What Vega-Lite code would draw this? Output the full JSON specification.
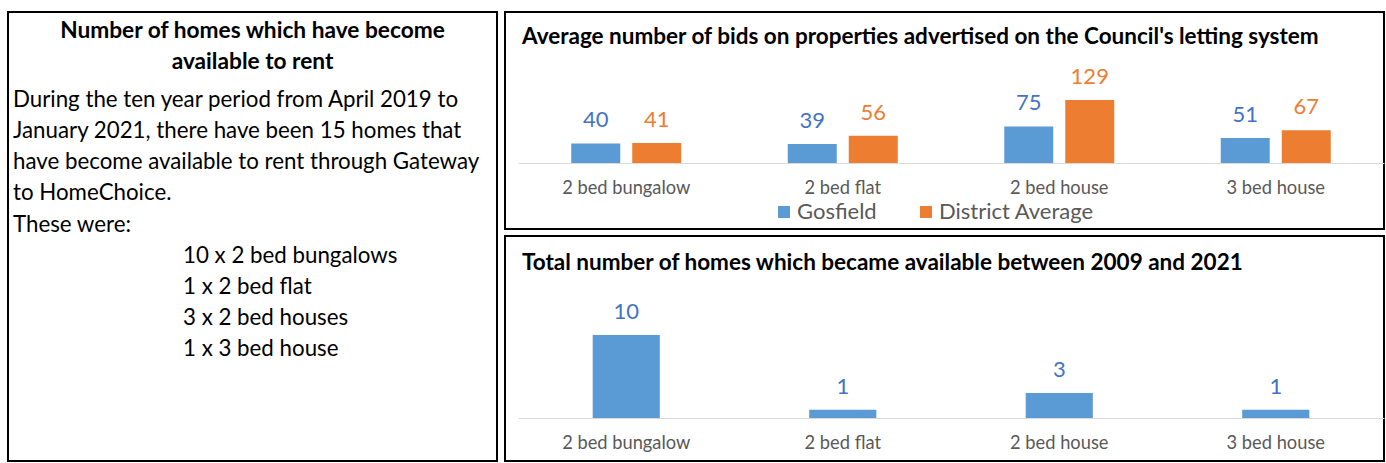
{
  "$schema": "https://vega.github.io/schema/vega-lite/v6.json",
  "padding": {"left": 7, "top": 11, "right": 1, "bottom": 1},
  "background": "white",
  "spacing": 6,
  "config": {
    "font": "Lato",
    "view": {"stroke": "black", "strokeWidth": 2},
    "axis": {"grid": false, "ticks": false, "title": null, "labelAngle": 0, "labelColor": "#595959", "labelFontSize": 18.3, "labelFont": "Lato", "domainColor": "#d9d9d9", "domainWidth": 1, "labelPadding": 16}
  },
  "hconcat": [
    {
      "width": 489,
      "height": 449,
      "title": {"text": ["Number of homes which have become", "available to rent"], "anchor": "middle", "offset": -62, "fontSize": 22.7, "fontWeight": "bold", "lineHeight": 31, "font": "Lato", "color": "black"},
      "data": {"values": [
        {"kind": "paragraph", "line": 1, "text": "During the ten year period from April 2019 to"},
        {"kind": "paragraph", "line": 2, "text": "January 2021, there have been 15 homes that"},
        {"kind": "paragraph", "line": 3, "text": "have become available to rent through Gateway"},
        {"kind": "paragraph", "line": 4, "text": "to HomeChoice."},
        {"kind": "paragraph", "line": 5, "text": "These were:"},
        {"kind": "list", "line": 6, "text": "10 x 2 bed bungalows"},
        {"kind": "list", "line": 7, "text": "1 x 2 bed flat"},
        {"kind": "list", "line": 8, "text": "3 x 2 bed houses"},
        {"kind": "list", "line": 9, "text": "1 x 3 bed house"}
      ]},
      "mark": {"type": "text", "align": "left", "baseline": "middle", "fontSize": 22.3, "font": "Lato", "color": "black"},
      "encoding": {
        "x": {"field": "kind", "type": "nominal", "scale": {"type": "point", "padding": 0, "domain": ["paragraph", "list"], "range": [5, 175]}, "axis": null},
        "y": {"field": "line", "type": "quantitative", "scale": {"domain": [1, 9], "range": [88, 337]}, "axis": null},
        "text": {"field": "text"}
      }
    },
    {
      "spacing": 5,
      "vconcat": [
        {
          "width": 879,
          "height": 217,
          "title": {"text": "Average number of bids on properties advertised on the Council's letting system", "anchor": "start", "offset": -36, "dx": 17, "fontSize": 22.5, "fontWeight": "bold", "color": "black", "font": "Lato"},
          "data": {"values": [
            {"type": "2 bed bungalow", "series": "Gosfield", "bids": 40},
            {"type": "2 bed bungalow", "series": "District Average", "bids": 41},
            {"type": "2 bed flat", "series": "Gosfield", "bids": 39},
            {"type": "2 bed flat", "series": "District Average", "bids": 56},
            {"type": "2 bed house", "series": "Gosfield", "bids": 75},
            {"type": "2 bed house", "series": "District Average", "bids": 129},
            {"type": "3 bed house", "series": "Gosfield", "bids": 51},
            {"type": "3 bed house", "series": "District Average", "bids": 67}
          ]},
          "encoding": {
            "x": {"field": "type", "type": "nominal", "scale": {"range": [13, 879], "paddingInner": 0, "paddingOuter": 0}, "axis": {"offset": -66}},
            "xOffset": {"field": "series", "type": "nominal", "sort": ["Gosfield", "District Average"], "scale": {"paddingInner": 0.197, "paddingOuter": 0.873}},
            "y": {"field": "bids", "type": "quantitative", "stack": null, "scale": {"domain": [-135.2, 309.4]}, "axis": null}
          },
          "layer": [
            {
              "mark": {"type": "bar"},
              "encoding": {
                "color": {"field": "series", "type": "nominal", "sort": ["Gosfield", "District Average"], "scale": {"domain": ["Gosfield", "District Average"], "range": ["#5b9bd5", "#ed7d31"]},
                  "legend": {"orient": "none", "legendX": 268, "legendY": 189, "direction": "horizontal", "title": null, "symbolType": "square", "symbolSize": 144, "symbolStrokeWidth": 0, "symbolOpacity": 1, "labelFontSize": 22, "labelFont": "Lato", "labelColor": "#595959", "columnPadding": 38, "labelOffset": 2}}
              }
            },
            {
              "mark": {"type": "text", "baseline": "alphabetic", "dy": -16, "fontSize": 22, "font": "Lato"},
              "encoding": {
                "text": {"field": "bids", "type": "quantitative"},
                "color": {"field": "series", "type": "nominal", "scale": {"domain": ["Gosfield", "District Average"], "range": ["#4472c4", "#ed7d31"]}, "legend": null}
              }
            }
          ],
          "resolve": {"scale": {"color": "independent"}}
        },
        {
          "width": 879,
          "height": 225,
          "title": {"text": "Total number of homes which became available between 2009 and 2021", "anchor": "start", "offset": -38, "dx": 17, "fontSize": 22.5, "fontWeight": "bold", "color": "black", "font": "Lato"},
          "data": {"values": [
            {"type": "2 bed bungalow", "homes": 10},
            {"type": "2 bed flat", "homes": 1},
            {"type": "2 bed house", "homes": 3},
            {"type": "3 bed house", "homes": 1}
          ]},
          "encoding": {
            "x": {"field": "type", "type": "nominal", "scale": {"range": [13, 879], "paddingInner": 0, "paddingOuter": 0}, "axis": {"offset": -43}},
            "y": {"field": "homes", "type": "quantitative", "stack": null, "scale": {"domain": [-5.18, 21.93]}, "axis": null}
          },
          "layer": [
            {"mark": {"type": "bar", "color": "#5b9bd5", "width": {"band": 0.31}}},
            {
              "mark": {"type": "text", "baseline": "alphabetic", "dy": -16, "fontSize": 22, "font": "Lato", "color": "#4472c4"},
              "encoding": {"text": {"field": "homes", "type": "quantitative"}}
            }
          ]
        }
      ]
    }
  ]
}
